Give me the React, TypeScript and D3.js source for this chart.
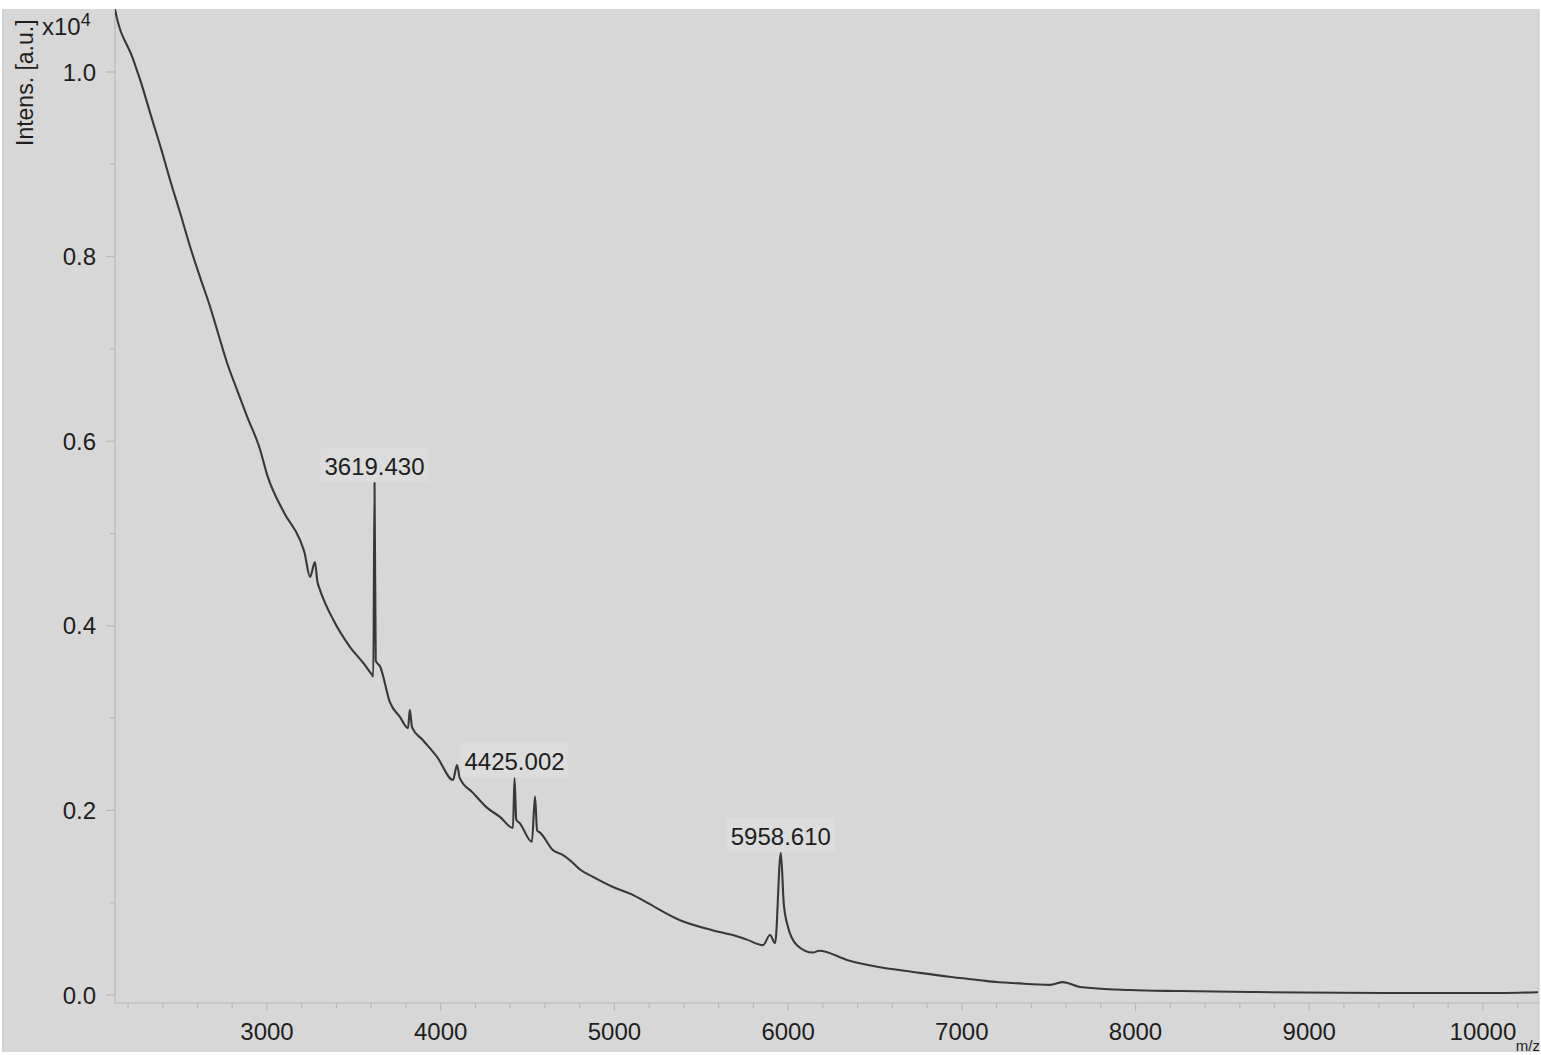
import React from "react";
import * as d3 from "d3";

// m/z positions and intensities (a.u.)
const mzValues = [
  2100, 2125, 2229, 2269, 2338, 2395, 2442, 2499, 2557, 2614, 2672, 2712, 2770, 2827, 2885,
  2960, 3000, 3100, 3190, 3215, 3248, 3276, 3290, 3305, 3380, 3478, 3553, 3604, 3612, 3619, 3626,
  3651, 3708, 3766, 3812, 3822, 3835, 3898, 3979, 4071, 4094, 4110, 4186, 4266, 4341, 4416,
  4425, 4435, 4456, 4525, 4543, 4555, 4572, 4646, 4700, 4762, 4802, 4877, 4992, 5100, 5188, 5378, 5568,
  5700, 5763, 5855, 5896, 5925, 5958, 5975, 5999, 6051, 6143, 6180, 6339, 6529, 6719, 6915, 7105, 7202,
  7295, 7507, 7582, 7680, 7968, 8256, 8659, 8947, 9522, 10098, 10317,
];
const intensityValues = [
  10950, 10680, 10140, 9920, 9490, 9140, 8830, 8480, 8110, 7780, 7460, 7210, 6850, 6560, 6270,
  5910, 5640, 5220, 4930, 4800, 4530, 4690, 4480, 4390, 4070, 3770, 3600, 3470, 3450, 5550, 3620,
  3560, 3170, 3010, 2890, 3090, 2900, 2760, 2580, 2330, 2490, 2350, 2190, 2030, 1930, 1810,
  2350, 1900, 1860, 1660, 2150, 1780, 1760, 1570, 1520, 1430, 1360, 1280, 1170, 1090, 1000, 810, 700,
  640, 600, 540, 650, 560, 1540, 990, 740, 540, 460, 480, 380, 300, 250, 200, 160, 140,
  130, 110, 140, 87, 54, 43, 33, 27, 22, 22, 30,
];

const yTicks = [0, 2000, 4000, 6000, 8000, 10000];
const yTickLabels = ["0.0", "0.2", "0.4", "0.6", "0.8", "1.0"];
const yMinorTicks = [1000, 3000, 5000, 7000, 9000];
const xTicks = [3000, 4000, 5000, 6000, 7000, 8000, 9000, 10000];
const xMinorStart = 2200;
const xMinorStep = 200;

const peakLabels = ["3619.430", "4425.002", "5958.610"];
const peakMz = [3619, 4425, 5958];
const peakTop = [5550, 2350, 1540];

const W = 1541;
const H = 1055;
const FONT = "'Liberation Sans', Arial, Helvetica, sans-serif";

export default function App() {
  const left = 115;
  const right = 1538;
  const top = 9;
  const bottom = 1003;

  const x = d3.scaleLinear().domain([2125, 10317]).range([left, right]);
  const y = d3.scaleLinear().domain([0, 10000]).range([995, 72]);

  const data = mzValues.map((m, i) => [m, intensityValues[i]] as [number, number]);
  const line = d3
    .line<[number, number]>()
    .x((d) => x(d[0]))
    .y((d) => y(d[1]))
    .curve(d3.curveMonotoneX);

  const minor: number[] = [];
  for (let v = xMinorStart; v <= 10300; v += xMinorStep) {
    if (v % 1000 !== 0) minor.push(v);
  }

  const axisColor = "#b8b8b8";
  const textColor = "#1e1e1e";

  return (
    <svg
      width={W}
      height={H}
      style={{ position: "absolute", left: 0, top: 0, background: "#ffffff" }}
    >
      <defs>
        <clipPath id="plotClip">
          <rect x={left} y={top} width={right - left} height={bottom - top} />
        </clipPath>
      </defs>
      <rect x={2} y={top} width={right - 1} height={1052 - top} fill="#d7d7d7" />
      <line x1={3} x2={3} y1={top} y2={1052} stroke="#cacaca" strokeWidth={1} />
      <line x1={right + 1} x2={right + 1} y1={top} y2={1052} stroke="#c4c4c4" strokeWidth={1} />

      {/* axes */}
      <line x1={left} x2={left} y1={top} y2={bottom} stroke={axisColor} strokeWidth={1.2} />
      <line x1={left} x2={right} y1={bottom} y2={bottom} stroke={axisColor} strokeWidth={1.2} />

      {yTicks.map((t, i) => (
        <g key={"y" + t}>
          <line x1={left - 9} x2={left} y1={y(t)} y2={y(t)} stroke={axisColor} strokeWidth={1.2} />
          <text
            x={96}
            y={y(t)}
            dy="0.36em"
            textAnchor="end"
            fontFamily={FONT}
            fontSize={24}
            fill={textColor}
          >
            {yTickLabels[i]}
          </text>
        </g>
      ))}
      {yMinorTicks.map((t) => (
        <line key={"ym" + t} x1={left - 5} x2={left} y1={y(t)} y2={y(t)} stroke={axisColor} strokeWidth={1.2} />
      ))}

      {xTicks.map((t) => (
        <g key={"x" + t}>
          <line x1={x(t)} x2={x(t)} y1={bottom} y2={bottom + 8} stroke={axisColor} strokeWidth={1.2} />
          <text
            x={x(t)}
            y={1040}
            textAnchor="middle"
            fontFamily={FONT}
            fontSize={24}
            fill={textColor}
          >
            {t}
          </text>
        </g>
      ))}
      {minor.map((t) => (
        <line key={"xm" + t} x1={x(t)} x2={x(t)} y1={bottom} y2={bottom + 5} stroke={axisColor} strokeWidth={1.2} />
      ))}

      {/* axis titles */}
      <text
        transform="translate(33,146) rotate(-90)"
        fontFamily={FONT}
        fontSize={23}
        fill={textColor}
      >
        Intens. [a.u.]
      </text>
      <text x={42} y={35} fontFamily={FONT} fontSize={24} fill={textColor}>
        x10
        <tspan fontSize={18} dy={-9}>4</tspan>
      </text>
      <text x={1540} y={1051} textAnchor="end" fontFamily={FONT} fontSize={15} fill={textColor}>
        m/z
      </text>

      {/* spectrum */}
      <g clipPath="url(#plotClip)">
        <path
          d={line(data) || ""}
          fill="none"
          stroke="#383838"
          strokeWidth={2.1}
          strokeLinejoin="round"
        />
      </g>

      {/* peak labels */}
      {peakLabels.map((lab, i) => {
        const px = x(peakMz[i]);
        const py = y(peakTop[i]);
        return (
          <g key={lab}>
            <rect x={px - 54} y={py - 35} width={108} height={34} fill="#dcdcdc" />
            <text
              x={px}
              y={py - 8}
              textAnchor="middle"
              fontFamily={FONT}
              fontSize={24}
              fill={textColor}
            >
              {lab}
            </text>
          </g>
        );
      })}
    </svg>
  );
}
